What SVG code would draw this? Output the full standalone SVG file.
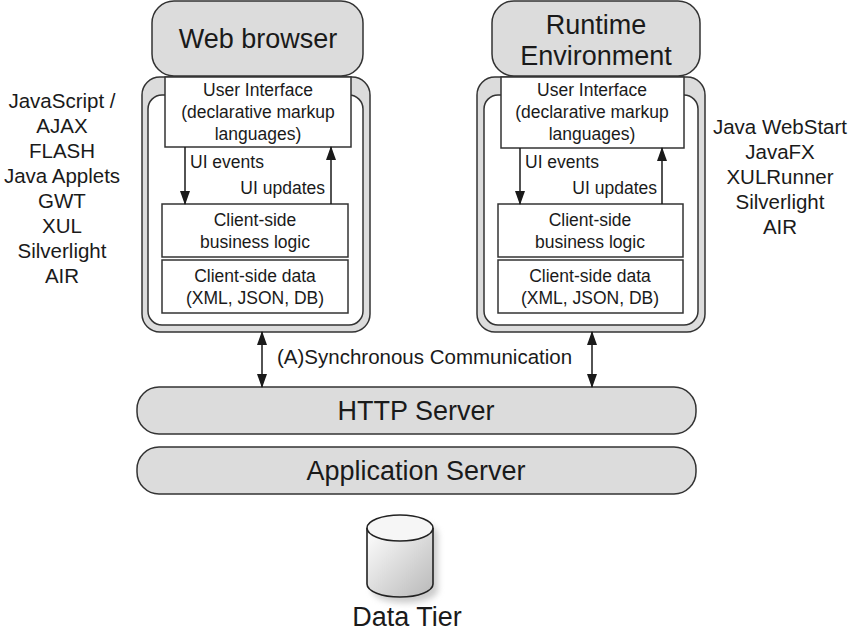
<svg xmlns="http://www.w3.org/2000/svg" width="850" height="632" viewBox="0 0 850 632">
<style>
text{font-family:"Liberation Sans",Arial,Helvetica,sans-serif;fill:#1a1a1a;text-anchor:middle}
.grey{fill:#dcdcdc;stroke:#333;stroke-width:1.5}
.white{fill:#fff;stroke:#333;stroke-width:1.5}
.t27{font-size:27px}
.t21{font-size:20.5px}
.t18{font-size:17.5px}
.ln{stroke:#1a1a1a;stroke-width:1.5;fill:none}
</style>
<defs>
<marker id="ah2" markerUnits="userSpaceOnUse" markerWidth="14" markerHeight="10" refX="13" refY="5" orient="auto-start-reverse" viewBox="0 0 14 10">
<path d="M0,0 L14,5 L0,10 z" fill="#1a1a1a"/>
</marker>
<linearGradient id="cyl" x1="0" y1="0" x2="1" y2="1">
<stop offset="0" stop-color="#ffffff"/>
<stop offset="1" stop-color="#b8b8b8"/>
</linearGradient>
<filter id="blur" x="-30%" y="-30%" width="160%" height="160%"><feGaussianBlur stdDeviation="3"/></filter>
</defs>

<g id="web-browser">
<rect class="grey" x="142" y="77" width="228" height="255" rx="18"/>
<rect class="white" x="148" y="95" width="215" height="230" rx="14"/>
<rect class="grey" x="152" y="1" width="211" height="75" rx="22"/>
<text class="t27" x="258" y="48">Web browser</text>
</g>
<g id="web-ui">
<rect class="white" x="165" y="77" width="186" height="70"/>
<text class="t18" x="258" y="96">User Interface</text>
<text class="t18" x="258" y="118">(declarative markup</text>
<text class="t18" x="258" y="140">languages)</text>
</g>
<g id="web-logic">
<rect class="white" x="162" y="204" width="186" height="53"/>
<text class="t18" x="255" y="226">Client-side</text>
<text class="t18" x="255" y="248">business logic</text>
</g>
<g id="web-data">
<rect class="white" x="162" y="260" width="186" height="53"/>
<text class="t18" x="255" y="282">Client-side data</text>
<text class="t18" x="255" y="304">(XML, JSON, DB)</text>
</g>

<g id="runtime-env">
<rect class="grey" x="477" y="77" width="228" height="255" rx="18"/>
<rect class="white" x="484" y="95" width="214" height="230" rx="14"/>
<rect class="grey" x="492" y="1" width="208" height="75" rx="22"/>
<text class="t27" x="596" y="34">Runtime</text>
<text class="t27" x="596" y="65">Environment</text>
</g>
<g id="rt-ui">
<rect class="white" x="501" y="77" width="183" height="71"/>
<text class="t18" x="592" y="96">User Interface</text>
<text class="t18" x="592" y="118">(declarative markup</text>
<text class="t18" x="592" y="140">languages)</text>
</g>
<g id="rt-logic">
<rect class="white" x="498" y="204" width="185" height="53"/>
<text class="t18" x="590" y="226">Client-side</text>
<text class="t18" x="590" y="248">business logic</text>
</g>
<g id="rt-data">
<rect class="white" x="498" y="260" width="185" height="53"/>
<text class="t18" x="590" y="282">Client-side data</text>
<text class="t18" x="590" y="304">(XML, JSON, DB)</text>
</g>

<g id="http-server">
<rect class="grey" x="137" y="387" width="559" height="47" rx="22"/>
<text class="t27" x="416" y="420">HTTP Server</text>
</g>
<g id="app-server">
<rect class="grey" x="137" y="447" width="559" height="47" rx="22"/>
<text class="t27" x="416" y="480">Application Server</text>
</g>

<g id="data-tier">
<path d="M372,590 a33,13 0 0 0 66,0 v-56 a33,13 0 0 0 -66,0 z" fill="#999" opacity="0.5" filter="url(#blur)"/>
<path d="M367,528 v56 a33,13 0 0 0 66,0 v-56" fill="url(#cyl)" stroke="#222" stroke-width="1.6"/>
<ellipse cx="400" cy="528" rx="33" ry="13" fill="#f6f6f6" stroke="#222" stroke-width="1.6"/>
<text class="t27" x="407" y="626">Data Tier</text>
</g>

<g id="labels-left">
<text class="t21" x="62" y="108">JavaScript /</text>
<text class="t21" x="62" y="133">AJAX</text>
<text class="t21" x="62" y="158">FLASH</text>
<text class="t21" x="62" y="183">Java Applets</text>
<text class="t21" x="62" y="208">GWT</text>
<text class="t21" x="62" y="233">XUL</text>
<text class="t21" x="62" y="258">Silverlight</text>
<text class="t21" x="62" y="283">AIR</text>
</g>
<g id="labels-right">
<text class="t21" x="780" y="134">Java WebStart</text>
<text class="t21" x="780" y="159">JavaFX</text>
<text class="t21" x="780" y="184">XULRunner</text>
<text class="t21" x="780" y="209">Silverlight</text>
<text class="t21" x="780" y="234">AIR</text>
</g>

<g id="connectors">
<line class="ln" x1="185" y1="147" x2="185" y2="204" marker-end="url(#ah2)"/>
<line class="ln" x1="331" y1="204" x2="331" y2="147" marker-end="url(#ah2)"/>
<text class="t18" x="190" y="168" style="text-anchor:start">UI events</text>
<text class="t18" x="325" y="194" style="text-anchor:end">UI updates</text>
<line class="ln" x1="520" y1="148" x2="520" y2="204" marker-end="url(#ah2)"/>
<line class="ln" x1="662" y1="204" x2="662" y2="148" marker-end="url(#ah2)"/>
<text class="t18" x="525" y="168" style="text-anchor:start">UI events</text>
<text class="t18" x="657" y="194" style="text-anchor:end">UI updates</text>
<line class="ln" x1="262" y1="332" x2="262" y2="387" marker-start="url(#ah2)" marker-end="url(#ah2)"/>
<line class="ln" x1="592" y1="332" x2="592" y2="387" marker-start="url(#ah2)" marker-end="url(#ah2)"/>
<text class="t21" x="277" y="364" style="text-anchor:start">(A)Synchronous Communication</text>
</g>
</svg>
